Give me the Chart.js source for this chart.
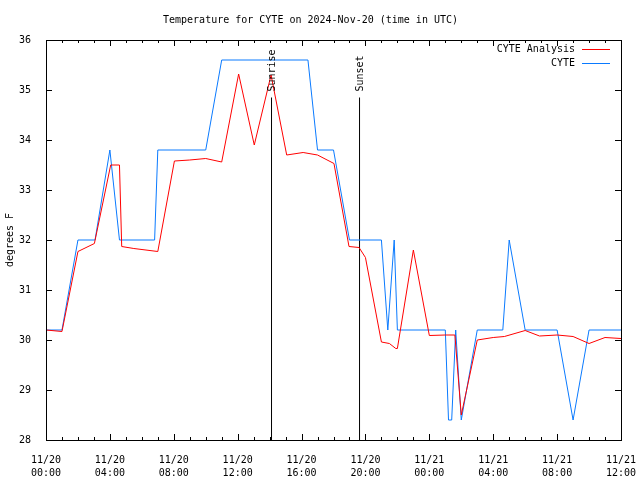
<!DOCTYPE html>
<html>
<head>
<meta charset="utf-8">
<script src="https://cdn.jsdelivr.net/npm/chart.js@4/dist/chart.umd.min.js"></script>
<style>
  body { margin: 0; background: #fff; }
  #wrap { width: 640px; height: 480px; }
</style>
</head>
<body>
<div id="wrap"><canvas id="tempChart" width="640" height="480"></canvas></div>
<script>
// hours since 11/20 00:00 UTC
var analysisHours = [0, 1, 2, 3.03, 4.05, 4.6, 4.74, 5.5, 7, 8.04, 9, 10, 11, 12.06, 13.04, 14.09, 15.07, 16.1, 17, 18.03, 18.97, 19.6, 20, 21, 21.5, 21.9, 22, 23, 24, 25, 25.6, 26, 27, 28, 28.7, 30, 30.9, 32, 33, 34, 35, 36]
var analysisTemps = [30.2, 30.17, 31.77, 31.93, 33.5, 33.5, 31.87, 31.83, 31.77, 33.58, 33.6, 33.63, 33.56, 35.32, 33.9, 35.3, 33.7, 33.75, 33.7, 33.53, 31.87, 31.85, 31.65, 29.96, 29.93, 29.83, 29.83, 31.8, 30.09, 30.1, 30.1, 28.5, 30.0, 30.05, 30.07, 30.19, 30.08, 30.1, 30.07, 29.93, 30.05, 30.03]

var cyteHours = [0, 1, 2, 3.07, 4, 4.6, 6.8, 7, 10, 11, 16.4, 17, 18, 19, 21, 21.4, 21.8, 22, 25, 25.2, 25.4, 25.65, 26, 27, 28.6, 29, 30, 32, 33, 34, 36]
var cyteTemps = [30.2, 30.2, 32.0, 32.0, 33.8, 32.0, 32.0, 33.8, 33.8, 35.6, 35.6, 33.8, 33.8, 32.0, 32.0, 30.2, 32.0, 30.2, 30.2, 28.4, 28.4, 30.2, 28.4, 30.2, 30.2, 32.0, 30.2, 30.2, 28.4, 30.2, 30.2]

var xTickLabels = [["11/20","00:00"],["11/20","04:00"],["11/20","08:00"],["11/20","12:00"],["11/20","16:00"],["11/20","20:00"],["11/21","00:00"],["11/21","04:00"],["11/21","08:00"],["11/21","12:00"]]

var sunriseHour = 14.12
var sunsetHour = 19.63
var markerTop = 34.85

var monoFont = "'DejaVu Sans Mono', monospace"

function pts(xs, ys){
    var out = []
    for (var i = 0; i < xs.length; i++) out.push({x: xs[i], y: ys[i]})
    return out
}

var gnuplotBits = {
    id: 'gnuplotBits',
    afterDraw: function(chart){
        var ctx = chart.ctx
        var a = chart.chartArea
        var xs = chart.scales.x
        var ys = chart.scales.y
        ctx.save()
        ctx.strokeStyle = '#000'
        ctx.lineWidth = 1
        // frame
        ctx.strokeRect(Math.round(a.left) + 0.5, Math.round(a.top) + 0.5, Math.round(a.right - a.left), Math.round(a.bottom - a.top))
        // inward ticks
        ctx.beginPath()
        for (var h = 0; h <= 36; h++){
            var px = Math.round(xs.getPixelForValue(h)) + 0.5
            var len = (h % 4 === 0) ? 6 : 3
            ctx.moveTo(px, a.bottom); ctx.lineTo(px, a.bottom - len)
            ctx.moveTo(px, a.top); ctx.lineTo(px, a.top + len)
        }
        for (var v = 28; v <= 36; v++){
            var py = Math.round(ys.getPixelForValue(v)) + 0.5
            ctx.moveTo(a.left, py); ctx.lineTo(a.left + 6, py)
            ctx.moveTo(a.right, py); ctx.lineTo(a.right - 6, py)
        }
        ctx.stroke()

        // sunrise / sunset labels
        ctx.fillStyle = '#000'
        ctx.font = '10px ' + monoFont
        ctx.textBaseline = 'middle'
        ctx.textAlign = 'left'
        var labTop = ys.getPixelForValue(markerTop) - 6
        ;[[sunriseHour, 'Sunrise'], [sunsetHour, 'Sunset']].forEach(function(m){
            ctx.save()
            ctx.translate(xs.getPixelForValue(m[0]) + 1, labTop)
            ctx.rotate(-Math.PI / 2)
            ctx.fillText(m[1], 0, 0)
            ctx.restore()
        })

        // legend
        ctx.textAlign = 'right'
        var ly = a.top + 9
        chart.data.datasets.slice(0, 2).forEach(function(ds, i){
            var y = ly + i * 14
            ctx.fillStyle = '#000'
            ctx.fillText(ds.label, a.right - 46, y)
            ctx.strokeStyle = ds.borderColor
            ctx.beginPath()
            ctx.moveTo(a.right - 39, Math.round(y) + 0.5)
            ctx.lineTo(a.right - 11, Math.round(y) + 0.5)
            ctx.stroke()
        })
        ctx.restore()
    }
}

var ctx = document.getElementById('tempChart').getContext('2d')
var chart = new Chart(ctx, {
    type: 'line',
    data: {
        datasets: [
            {
                label: 'CYTE Analysis',
                data: pts(analysisHours, analysisTemps),
                borderColor: '#ff0000',
                borderWidth: 1,
                pointRadius: 0,
                tension: 0
            },
            {
                label: 'CYTE',
                data: pts(cyteHours, cyteTemps),
                borderColor: '#0a7aff',
                borderWidth: 1,
                pointRadius: 0,
                tension: 0
            },
            {
                label: 'Sunrise',
                data: [{x: sunriseHour, y: 28}, {x: sunriseHour, y: markerTop}],
                borderColor: '#000',
                borderWidth: 1,
                pointRadius: 0
            },
            {
                label: 'Sunset',
                data: [{x: sunsetHour, y: 28}, {x: sunsetHour, y: markerTop}],
                borderColor: '#000',
                borderWidth: 1,
                pointRadius: 0
            }
        ]
    },
    options: {
        responsive: false,
        animation: false,
        layout: { padding: { left: 0, right: 19, top: 0, bottom: 0 } },
        plugins: {
            legend: { display: false },
            tooltip: { enabled: false },
            title: {
                display: true,
                text: 'Temperature for CYTE on 2024-Nov-20 (time in UTC)',
                color: '#000',
                font: { family: monoFont, size: 10, weight: 'normal' },
                padding: { top: 14, bottom: 14 }
            }
        },
        scales: {
            x: {
                type: 'linear',
                min: 0,
                max: 36,
                grid: { display: false },
                border: { display: false },
                ticks: {
                    stepSize: 4,
                    autoSkip: false,
                    maxRotation: 0,
                    padding: 6,
                    color: '#000',
                    font: { family: monoFont, size: 10, lineHeight: 1.3 },
                    callback: function(v){ return xTickLabels[v / 4] }
                },
                afterFit: function(s){
                    s.height = 40
                    s.paddingLeft = 0
                    s.paddingRight = 0
                }
            },
            y: {
                min: 28,
                max: 36,
                grid: { display: false },
                border: { display: false },
                title: {
                    display: true,
                    text: 'degrees F',
                    color: '#000',
                    font: { family: monoFont, size: 10 },
                    padding: { top: 4, bottom: 0 }
                },
                ticks: {
                    stepSize: 1,
                    padding: 7,
                    color: '#000',
                    font: { family: monoFont, size: 10 }
                },
                afterFit: function(s){ s.width = 46 }
            }
        }
    },
    plugins: [gnuplotBits]
})
</script>
</body>
</html>
